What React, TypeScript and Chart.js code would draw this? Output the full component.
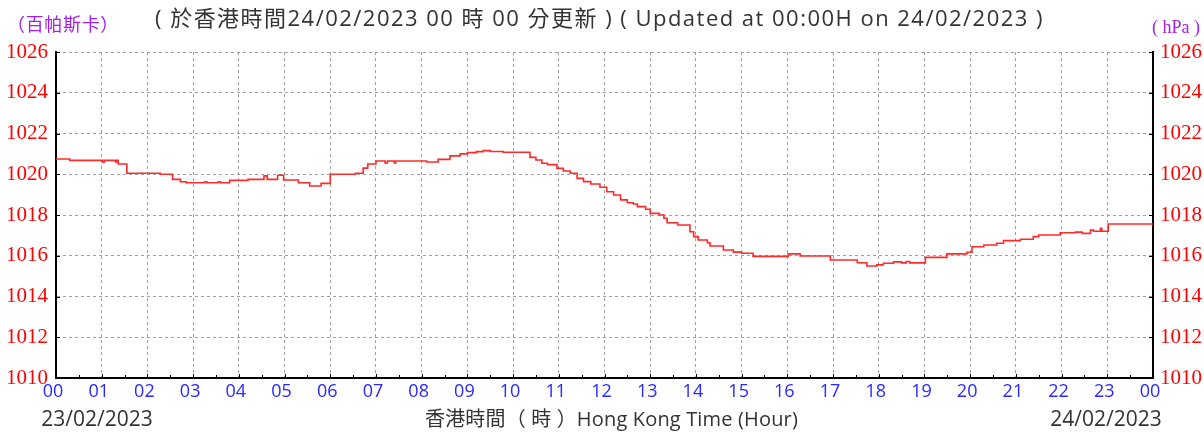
import { useEffect, useRef } from "react";
import { Chart, registerables } from "chart.js";

Chart.register(...registerables);

// Time of reading (hours since 00:00 on 23/02/2023) and station pressure (hPa)
const hours = [
  0.0, 0.3, 1.02, 1.06, 1.3, 1.33, 1.36, 1.55, 2.28, 2.55, 2.72, 2.85, 3.25, 3.3, 3.55, 3.6, 3.8, 4.2,
  4.55, 4.62, 4.85, 4.98, 5.3, 5.55, 5.8, 6.0, 6.55, 6.72, 6.82, 7.0, 7.2, 7.25, 7.4, 7.43, 8.11, 8.36,
  8.62, 8.84, 9.0, 9.2, 9.35, 9.5, 9.78, 10.37, 10.5, 10.63, 10.75, 10.96, 11.1, 11.25, 11.4, 11.54,
  11.7, 11.9, 12.05, 12.2, 12.35, 12.5, 12.63, 12.72, 12.9, 13.0, 13.2, 13.3, 13.37, 13.6, 13.87, 13.95,
  14.05, 14.25, 14.31, 14.6, 14.82, 15.0, 15.25, 16.02, 16.28, 16.94, 17.53, 17.74, 17.96, 18.1, 18.32,
  18.5, 18.6, 18.68, 19.02, 19.49, 19.93, 20.04, 20.3, 20.58, 20.73, 21.1, 21.38, 21.5, 21.97, 22.3,
  22.45, 22.63, 22.7, 22.85, 22.88, 23.02, 24.0,
];
const pressure = [
  1020.75, 1020.68, 1020.6, 1020.68, 1020.6, 1020.68, 1020.5, 1020.05, 1020.0, 1019.75, 1019.63, 1019.58,
  1019.63, 1019.58, 1019.63, 1019.58, 1019.7, 1019.75, 1019.92, 1019.75, 1019.95, 1019.72, 1019.58,
  1019.42, 1019.55, 1020.0, 1020.05, 1020.3, 1020.5, 1020.65, 1020.55, 1020.65, 1020.55, 1020.65,
  1020.6, 1020.73, 1020.9, 1021.0, 1021.06, 1021.11, 1021.16, 1021.12, 1021.08, 1020.83, 1020.7,
  1020.54, 1020.47, 1020.29, 1020.16, 1020.05, 1019.8, 1019.64, 1019.52, 1019.36, 1019.14, 1018.98,
  1018.74, 1018.6, 1018.54, 1018.41, 1018.28, 1018.08, 1018.0, 1017.84, 1017.62, 1017.51, 1017.18,
  1016.94, 1016.77, 1016.64, 1016.48, 1016.28, 1016.18, 1016.12, 1015.97, 1016.09, 1015.99, 1015.79,
  1015.66, 1015.5, 1015.55, 1015.63, 1015.7, 1015.65, 1015.72, 1015.65, 1015.92, 1016.09, 1016.17,
  1016.44, 1016.53, 1016.61, 1016.74, 1016.81, 1016.94, 1017.02, 1017.13, 1017.16, 1017.1, 1017.26,
  1017.2, 1017.35, 1017.2, 1017.56, 1017.56,
];
const hourTickLabels = [
  "00", "01", "02", "03", "04", "05", "06", "07", "08", "09", "10", "11", "12",
  "13", "14", "15", "16", "17", "18", "19", "20", "21", "22", "23", "00",
];
const pressureTicks = [1010, 1012, 1014, 1016, 1018, 1020, 1022, 1024, 1026];

const titleText = "( 於香港時間24/02/2023 00 時 00 分更新 ) ( Updated at 00:00H on 24/02/2023 )";
const leftUnit = "（百帕斯卡）";
const rightUnit = "( hPa )";
const startDate = "23/02/2023";
const endDate = "24/02/2023";
const xTitle = "香港時間（ 時 ）Hong Kong Time (Hour)";

const SANS = "'Open Sans', 'Noto Sans CJK TC', sans-serif";
const SERIF = "'Liberation Serif', serif";

function fitText(ctx: any, text: string, x0: number, x1: number, y: number) {
  ctx.letterSpacing = "0px";
  const w = ctx.measureText(text).width;
  const n = Array.from(text).length;
  const extra = (x1 - x0 - w) / n;
  ctx.letterSpacing = `${extra}px`;
  ctx.textAlign = "left";
  ctx.fillText(text, x0, y);
  ctx.letterSpacing = "0px";
}

const overlay = {
  id: "overlay",
  afterDraw(chart: any) {
    const ctx = chart.ctx as CanvasRenderingContext2D;
    const { left, right, bottom } = chart.chartArea;
    const xs = chart.scales.x;
    const ys = chart.scales.y;
    ctx.save();
    ctx.strokeStyle = "#000";
    ctx.lineWidth = 1;
    // inward tick marks
    for (let i = 0; i <= 48; i++) {
      const h = i / 2;
      const px = Math.round(xs.getPixelForValue(h)) + 0.5;
      ctx.beginPath();
      ctx.moveTo(px, bottom);
      ctx.lineTo(px, bottom - (i % 2 === 0 ? 4 : 3));
      ctx.stroke();
    }
    for (const p of pressureTicks) {
      const py = Math.round(ys.getPixelForValue(p)) + 0.5;
      ctx.beginPath();
      ctx.moveTo(left, py);
      ctx.lineTo(left + 4, py);
      ctx.moveTo(right, py);
      ctx.lineTo(right - 4, py);
      ctx.stroke();
    }
    // texts
    ctx.textBaseline = "middle";
    ctx.fillStyle = "#333";
    ctx.font = `22px ${SANS}`;
    fitText(ctx, titleText, 155, 1044, 20);

    ctx.fillStyle = "#a020f0";
    ctx.font = `18px ${SANS}`;
    fitText(ctx, leftUnit, 7, 119, 26);
    ctx.font = `18px ${SERIF}`;
    ctx.textAlign = "right";
    ctx.fillText(rightUnit, 1200, 28);

    ctx.fillStyle = "#333";
    ctx.font = `21px ${SANS}`;
    ctx.textAlign = "center";
    ctx.fillText(startDate, 97, 420);
    ctx.fillText(endDate, 1106, 420);
    ctx.font = `20px ${SANS}`;
    fitText(ctx, xTitle, 425, 798, 420);
    ctx.restore();
  },
};

export default function App() {
  const ref = useRef<HTMLCanvasElement | null>(null);
  useEffect(() => {
    if (!ref.current) return;
    const data = hours.map((h, i) => ({ x: h, y: pressure[i] }));
    const gridDash = [3, 3];
    const chart = new Chart(ref.current, {
      type: "line",
      data: {
        datasets: [
          {
            data,
            borderColor: "#ff2a2a",
            borderWidth: 1.6,
            pointRadius: 0,
            stepped: true,
            fill: false,
          },
        ],
      },
      options: {
        animation: false,
        responsive: false,
        events: [],
        layout: { padding: { top: 52, left: 0, right: 0, bottom: 0 }, autoPadding: false },
        plugins: { legend: { display: false }, tooltip: { enabled: false } },
        scales: {
          x: {
            type: "linear",
            min: 0,
            max: 24,
            afterFit: (s: any) => {
              s.height = 59;
            },
            ticks: {
              stepSize: 1,
              autoSkip: false,
              maxRotation: 0,
              padding: 3,
              labelOffset: -3,
              color: "#2828ff",
              font: { family: SANS, size: 18 },
              callback: (v: any) => hourTickLabels[Number(v)] ?? "",
            },
            grid: {
              drawTicks: false,
              lineWidth: 1,
              color: (c: any) =>
                c.tick && (c.tick.value === 0 || c.tick.value === 24) ? "transparent" : "#a0a0a0",
            },
            border: { display: true, color: "#000", width: 2, dash: gridDash },
          },
          y: {
            type: "linear",
            position: "left",
            min: 1010,
            max: 1026,
            afterFit: (s: any) => {
              s.width = 56;
            },
            ticks: {
              stepSize: 2,
              padding: 8,
              color: "#ff0000",
              font: { family: SERIF, size: 21 },
              callback: (v: any) => String(v),
            },
            grid: {
              drawTicks: false,
              lineWidth: 1,
              color: (c: any) => (c.tick && c.tick.value === 1010 ? "transparent" : "#a0a0a0"),
            },
            border: { display: true, color: "#000", width: 2, dash: gridDash },
          },
          y2: {
            type: "linear",
            position: "right",
            min: 1010,
            max: 1026,
            afterFit: (s: any) => {
              s.width = 51;
            },
            ticks: {
              stepSize: 2,
              padding: 7,
              color: "#ff0000",
              font: { family: SERIF, size: 21 },
              callback: (v: any) => String(v),
            },
            grid: { display: false, drawTicks: false },
            border: { display: true, color: "#000", width: 2 },
          },
        },
      },
      plugins: [overlay],
    } as any);
    return () => chart.destroy();
  }, []);
  return (
    <div style={{ position: "absolute", left: 0, top: 0, width: 1204, height: 437, background: "#fff" }}>
      <canvas ref={ref} width={1204} height={437} style={{ display: "block" }} />
    </div>
  );
}
